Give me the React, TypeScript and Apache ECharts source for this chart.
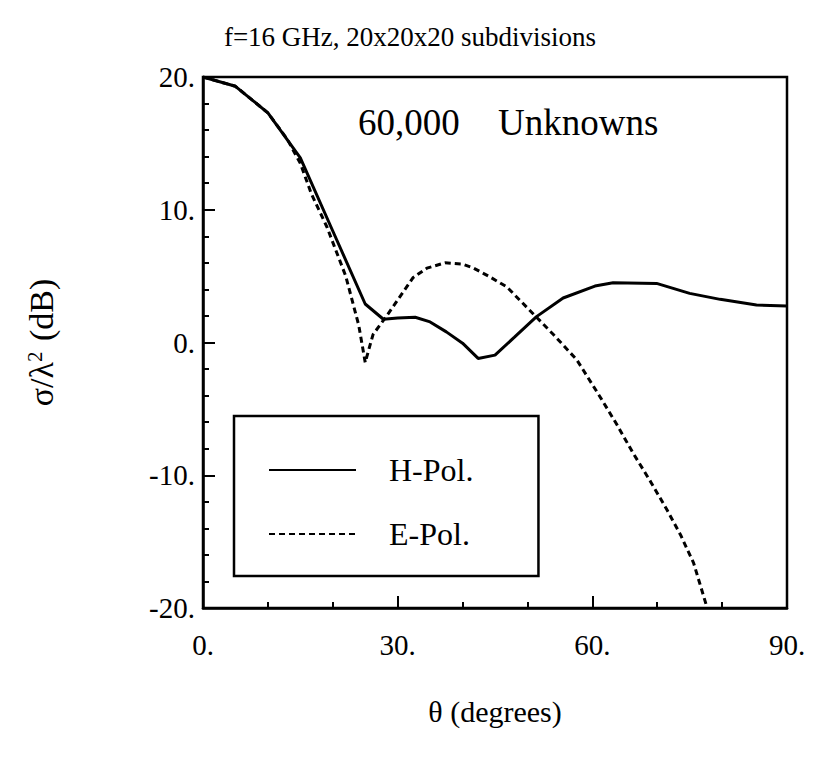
import React, { useEffect, useRef } from "react";
import * as echarts from "echarts";

const TITLE = "f=16 GHz, 20x20x20 subdivisions";
const X_NAME = "θ (degrees)";
const SERIES_NAMES = ["H-Pol.", "E-Pol."];
const NOTE_COUNT = "60,000";
const NOTE_LABEL = "Unknowns";

// H-Pol. (solid) : [theta (deg), sigma/lambda^2 (dB)]
const H_POL: [number, number][] = [
  [0, 20], [5, 19.3], [10, 17.3], [15, 13.9], [20, 8.4], [25, 2.9],
  [27.8, 1.75], [30, 1.85], [32.7, 1.9], [35, 1.55], [37.5, 0.8],
  [40, -0.05], [42.4, -1.2], [45, -0.95], [48, 0.4], [51.4, 1.95],
  [55.5, 3.35], [60.4, 4.25], [63.2, 4.5], [69.9, 4.45], [75, 3.7],
  [79.7, 3.25], [85.3, 2.82], [90, 2.75],
];

// E-Pol. (dashed)
const E_POL: [number, number][] = [
  [0, 20], [5, 19.3], [10, 17.3], [13, 15.3], [15, 13.5], [16.7, 11.2],
  [19.1, 8.7], [22, 5.0], [24, 1.3], [25, -1.5], [26.2, 0.6], [28.3, 2.0],
  [30, 3.2], [32.4, 4.9], [34.5, 5.6], [37.3, 6.0], [40, 5.9], [41.7, 5.6],
  [44, 5.0], [46.8, 4.2], [49, 3.1], [51.4, 1.9], [54, 0.6], [57.6, -1.3],
  [61.2, -4.1], [63.8, -6.2], [66.3, -8.35], [69, -10.5], [71.5, -12.6],
  [73.6, -14.5], [75.6, -16.6], [77.7, -20],
];

const X_TICKS = [0, 30, 60, 90];
const Y_TICKS = [-20, -10, 0, 10, 20];

const SERIF = "'Liberation Serif', 'Times New Roman', serif";

export default function App() {
  const ref = useRef<HTMLDivElement>(null);

  useEffect(() => {
    if (!ref.current) return;
    const chart = echarts.init(ref.current, undefined, { renderer: "svg" });
    chart.setOption({
      animation: false,
      backgroundColor: "#ffffff",
      title: {
        text: TITLE,
        left: "center",
        top: 18,
        textStyle: { fontFamily: SERIF, fontSize: 27, fontWeight: "normal", color: "#000" },
      },
      grid: {
        left: 203,
        top: 77,
        width: 584,
        height: 531,
        show: true,
        borderColor: "#000",
        borderWidth: 2.5,
        backgroundColor: "transparent",
      },
      legend: {
        data: SERIES_NAMES,
        orient: "vertical",
        left: 234,
        top: 416,
        itemWidth: 87,
        itemHeight: 14,
        itemGap: 32,
        padding: [38, 65, 26, 34],
        borderColor: "#000",
        borderWidth: 2.5,
        itemStyle: { opacity: 0, borderWidth: 0 },
        textStyle: {
          fontFamily: SERIF,
          fontSize: 32,
          color: "#000",
          padding: [0, 0, 0, 28],
        },
      },
      xAxis: {
        type: "value",
        min: X_TICKS[0],
        max: X_TICKS[X_TICKS.length - 1],
        interval: 30,
        name: X_NAME,
        nameLocation: "middle",
        nameGap: 88,
        nameTextStyle: { fontFamily: SERIF, fontSize: 30, color: "#000" },
        axisLine: { show: true, onZero: false, lineStyle: { color: "#000", width: 2.5 } },
        axisTick: { show: true, inside: true, length: 12, lineStyle: { color: "#000", width: 2 } },
        minorTick: { show: true, splitNumber: 3, length: 6, lineStyle: { color: "#000", width: 2 } },
        splitLine: { show: false },
        minorSplitLine: { show: false },
        axisLabel: {
          margin: 22,
          fontFamily: SERIF,
          fontSize: 29,
          color: "#000",
          formatter: (v: number) => `${v}.`,
        },
      },
      yAxis: {
        type: "value",
        min: Y_TICKS[0],
        max: Y_TICKS[Y_TICKS.length - 1],
        interval: 10,
        name: "σ/λ{sup|2} (dB)",
        nameLocation: "middle",
        nameRotate: 90,
        nameGap: 144,
        nameTextStyle: {
          fontFamily: SERIF,
          fontSize: 34,
          color: "#000",
          rich: {
            sup: { fontFamily: SERIF, fontSize: 21, color: "#000", verticalAlign: "top", padding: [0, 2, 14, 0] },
          },
        },
        axisLine: { show: true, onZero: false, lineStyle: { color: "#000", width: 2.5 } },
        axisTick: { show: true, inside: true, length: 12, lineStyle: { color: "#000", width: 2 } },
        minorTick: { show: true, splitNumber: 5, length: 6, lineStyle: { color: "#000", width: 2 } },
        splitLine: { show: false },
        minorSplitLine: { show: false },
        axisLabel: {
          margin: 8,
          fontFamily: SERIF,
          fontSize: 29,
          color: "#000",
          formatter: (v: number) => `${v}.`,
        },
      },
      graphic: [
        {
          type: "text",
          x: 358,
          y: 122,
          style: { text: NOTE_COUNT, fontFamily: SERIF, fontSize: 37, fill: "#000", verticalAlign: "middle" },
        },
        {
          type: "text",
          x: 498,
          y: 122,
          style: { text: NOTE_LABEL, fontFamily: SERIF, fontSize: 37, fill: "#000", verticalAlign: "middle" },
        },
      ],
      series: [
        {
          name: SERIES_NAMES[0],
          type: "line",
          data: H_POL,
          showSymbol: false,
          symbol: "none",
          lineStyle: { color: "#000", width: 3, type: "solid" },
          itemStyle: { color: "#000" },
        },
        {
          name: SERIES_NAMES[1],
          type: "line",
          data: E_POL,
          showSymbol: false,
          symbol: "none",
          lineStyle: { color: "#000", width: 3, type: [6, 4] },
          itemStyle: { color: "#000" },
        },
      ],
    });
    return () => chart.dispose();
  }, []);

  return (
    <div
      ref={ref}
      style={{ position: "absolute", left: 0, top: 0, width: 820, height: 765 }}
    />
  );
}
